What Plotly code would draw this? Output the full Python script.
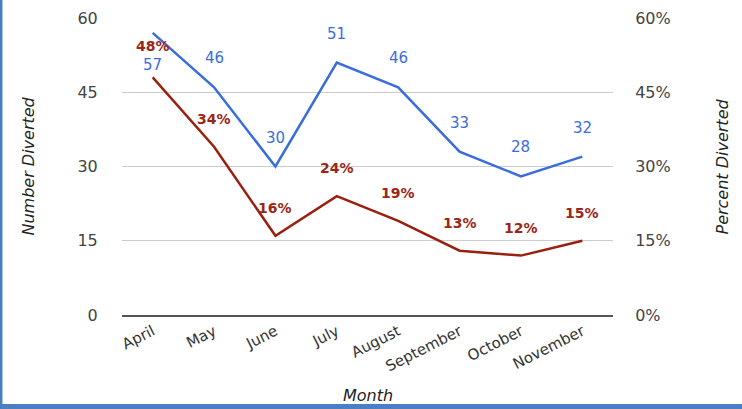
import plotly.graph_objects as go

months = ["April", "May", "June", "July", "August", "September", "October", "November"]
number_diverted = [57, 46, 30, 51, 46, 33, 28, 32]
percent_diverted = [0.48, 0.34, 0.16, 0.24, 0.19, 0.13, 0.12, 0.15]
left_ticks = [0, 15, 30, 45, 60]
right_ticks = [0, 0.15, 0.30, 0.45, 0.60]

BLUE = "#3a6ddc"
RED = "#99200f"
LABEL_RED = "#9b2616"
FONT = "DejaVu Sans, Verdana, sans-serif"

fig = go.Figure()
fig.add_trace(go.Scatter(x=months, y=number_diverted, mode="lines",
                         line=dict(color=BLUE, width=2.5), yaxis="y", showlegend=False))
fig.add_trace(go.Scatter(x=months, y=percent_diverted, mode="lines",
                         line=dict(color=RED, width=2.5), yaxis="y2", showlegend=False))

annotations = []
for i, (m, v) in enumerate(zip(months, number_diverted)):
    shift = -32 if i == 0 else 29
    annotations.append(dict(x=m, y=v, xref="x", yref="y", text=str(v), showarrow=False,
                            yshift=shift, font=dict(color=BLUE, size=15, family=FONT)))
for i, (m, v) in enumerate(zip(months, percent_diverted)):
    shift = 31 if i == 0 else 28
    annotations.append(dict(x=m, y=v, xref="x", yref="y2", text=f"<b>{round(v*100)}%</b>",
                            showarrow=False, yshift=shift,
                            font=dict(color=LABEL_RED, size=14, family=FONT)))

title_font = dict(size=16, color="#222", family=FONT)
annotations += [
    dict(xref="paper", yref="paper", x=-0.1914, y=0.5, text="<i>Number Diverted</i>",
         textangle=-90, showarrow=False, font=title_font, xanchor="center", yanchor="middle"),
    dict(xref="paper", yref="paper", x=1.222, y=0.5, text="<i>Percent Diverted</i>",
         textangle=-90, showarrow=False, font=title_font, xanchor="center", yanchor="middle"),
    dict(xref="paper", yref="paper", x=0.5, y=-0.2694, text="<i>Month</i>",
         showarrow=False, font=title_font, xanchor="center", yanchor="middle"),
]

fig.update_layout(
    width=742, height=409,
    margin=dict(l=122, r=129, t=18, b=94, autoexpand=False),
    paper_bgcolor="white", plot_bgcolor="white",
    font=dict(family=FONT, color="#444", size=15),
    xaxis=dict(type="category", range=[-0.5, 7.5], tickangle=-27, showgrid=False,
               showline=True, linecolor="#555", linewidth=2, ticks="", automargin=False,
               tickfont=dict(size=15, color="#333")),
    yaxis=dict(range=[0, 60], tickvals=left_ticks, showgrid=True, gridcolor="#cccccc",
               zeroline=False, ticks="outside", ticklen=20, tickcolor="white", automargin=False,
               tickfont=dict(size=16, color="#444")),
    yaxis2=dict(range=[0, 0.6], tickvals=right_ticks, tickformat=".0%", overlaying="y",
                side="right", showgrid=False, zeroline=False, ticks="outside", ticklen=18,
                tickcolor="white", automargin=False, tickfont=dict(size=16, color="#444")),
    annotations=annotations,
    shapes=[
        dict(type="rect", xref="paper", yref="paper", x0=-0.2485, x1=-0.2434, y0=-0.3165, y1=1.07,
             fillcolor="#4a7fc4", line=dict(width=0), layer="above"),
        dict(type="rect", xref="paper", yref="paper", x0=-0.2485, x1=1.27, y0=-0.3165, y1=-0.2997,
             fillcolor="#4a7fc4", line=dict(width=0), layer="above"),
    ],
)

fig.write_html("out.html", config={"displayModeBar": False},
               post_script="document.body.style.margin='0';")
